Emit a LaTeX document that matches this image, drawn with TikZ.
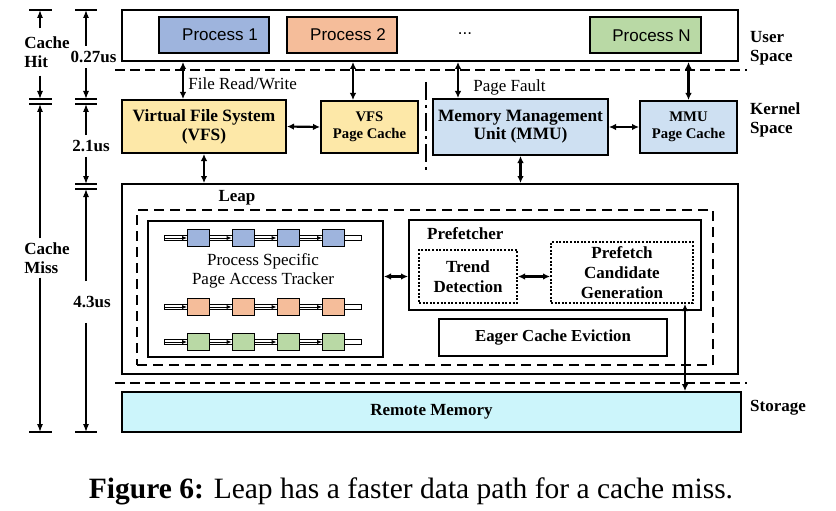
\documentclass[tikz,border=0pt]{standalone}
\usepackage{fontspec}
\setmainfont{Liberation Serif}
\newfontfamily\arialfont{Liberation Sans}
\usetikzlibrary{calc,positioning,arrows.meta}
\definecolor{pblue}{HTML}{9EB4DD}
\definecolor{porange}{HTML}{F5BD9A}
\definecolor{pgreen}{HTML}{B9D9A5}
\definecolor{vfsyellow}{HTML}{FDE8A8}
\definecolor{mmublue}{HTML}{CEE0F2}
\definecolor{remcyan}{HTML}{CCF5FB}
\tikzset{
	box/.style={draw, line width=2pt, inner sep=0pt, align=center},
	proc/.style={box, minimum width=110pt, minimum height=36pt, font=\arialfont\fontsize{17}{20}\selectfont, execute at begin node=\hspace*{12pt}},
	lbl/.style={font=\bfseries\fontsize{17}{19}\selectfont, align=left, inner sep=0pt},
	bi/.style={{Latex[length=7pt,width=6.5pt]}-{Latex[length=7pt,width=6.5pt]}, line width=2.2pt},
	sep/.style={line width=2.2pt, dash pattern=on 10pt off 5pt},
	dotbox/.style={draw, line width=2pt, dash pattern=on 2pt off 1.6pt, inner sep=0pt, align=center, font=\bfseries\fontsize{17}{20}\selectfont},
	tick/.style={line width=1.2pt},
	dim/.style={-{Latex[length=8pt,width=6pt]}, line width=1.1pt},
	chainarr/.style={-{Latex[length=5pt,width=4.5pt]}, line width=1pt}
}
\begin{document}
\begin{tikzpicture}[x=1pt,y=-1pt]
			%%%%% START %%%%%
			\useasboundingbox (0,0) rectangle (836,511);
			
			% user space
			\node[box, minimum width=616pt, minimum height=51pt] (user) at (430,35.5) {};
			\node[proc, fill=pblue] (p1) at (214,35) {Process 1};
			\node[proc, fill=porange] (p2) at (342,35) {Process 2};
			\node[font=\arialfont\fontsize{17}{20}\selectfont] (dots) at (465,34) {...};
			\node[proc, fill=pgreen, minimum width=111pt] (pN) at (645.5,35.5) {Process N};
			\node[lbl, anchor=west] (us) at (750,48) {User\\Space};
			
			\draw[sep] (115,70) -- (747,70);
			
			% kernel space
			\node[box, fill=vfsyellow, minimum width=164pt, minimum height=53pt, font=\bfseries\fontsize{17.3}{19}\selectfont] (vfs) at (204,126.5) {Virtual File System\\(VFS)};
			\node[box, fill=vfsyellow, minimum width=97pt, minimum height=52pt, font=\bfseries\fontsize{14.7}{17}\selectfont] (vfspc) at (369.5,127) {VFS\\Page Cache};
			\node[box, fill=mmublue, minimum width=175pt, minimum height=56pt, font=\bfseries\fontsize{17.3}{18}\selectfont] (mmu) at (520.5,127) {Memory Management\\Unit (MMU)};
			\node[box, fill=mmublue, minimum width=97pt, minimum height=52pt, font=\bfseries\fontsize{14.7}{17}\selectfont] (mmupc) at (688.5,127) {MMU\\Page Cache};
			\node[lbl, anchor=west] (ks) at (750,120) {Kernel\\Space};
			
			\draw[line width=2pt, dash pattern=on 18pt off 5pt on 3pt off 5pt] (426,82) -- (426,172);
			
			\coordinate (frw) at ([xshift=-21pt]vfs.north);
			\coordinate (pcw) at ([xshift=-16.5pt]vfspc.north);
			\coordinate (pf) at ([xshift=-62.5pt]mmu.north);
			\draw[bi] (frw |- user.south) -- (frw) node[pos=0.6, right=1pt, font=\fontsize{17}{20}\selectfont] {File Read/Write};
			\draw[bi] (pcw |- user.south) -- (pcw);
			\draw[bi] (pf |- user.south) -- (pf) node[pos=0.7, right=11pt, font=\fontsize{17}{20}\selectfont] {Page Fault};
			\draw[bi] (mmupc.north |- user.south) -- (mmupc.north);
			\draw[bi] (vfs.east) -- (vfspc.west);
			\draw[bi] (mmu.east) -- (mmupc.west);
			
			% leap
			\node[box, minimum width=616pt, minimum height=190pt] (leap) at (430,279) {};
			\node[lbl] (leaplbl) at (237,198) {Leap};
			\node[draw, line width=2.2pt, dash pattern=on 10pt off 6pt, minimum width=576pt, minimum height=155pt] (leapin) at (425,287.5) {};
			\draw[bi] (vfs.south) -- (vfs.south |- leap.north);
			\draw[bi] (mmu.south) -- (mmu.south |- leap.north);
			
			\node[box, minimum width=235pt, minimum height=136pt] (tracker) at (265.5,289) {};
			\node[font=\fontsize{17}{18.5}\selectfont, align=center] (trktxt) at (263,271) {Process Specific\\Page Access Tracker};
			\foreach \r/\row/\col in {a/238/pblue, b/307/porange, c/342/pgreen} {
				\draw[line width=1pt, fill=white] (164,\row-2.5) rectangle (361,\row+2.5);
				\coordinate (\r0) at (164,\row);
				\foreach \x [count=\i] in {198.5,243,288,333.5}
					\node[draw, line width=1pt, fill=\col, minimum width=22pt, minimum height=17pt, inner sep=0pt] (\r\i) at (\x,\row) {};
				\draw[chainarr] (\r0) -- (\r1.west);
				\foreach \i [evaluate=\i as \j using int(\i+1)] in {1,2,3}
					\draw[chainarr] (\r\i.east) -- (\r\j.west);
			}
			
			\node[box, minimum width=292pt, minimum height=90pt] (pref) at (555,265) {};
			\node[lbl, anchor=north west] (preflbl) at ([xshift=19pt,yshift=-8pt]pref.north west) {Prefetcher};
			\node[dotbox, minimum width=98pt, minimum height=53pt] (trend) at (468,276.5) {Trend\\Detection};
			\node[dotbox, minimum width=142pt, minimum height=61pt] (cand) at (622,272.5) {Prefetch\\Candidate\\Generation};
			\node[box, minimum width=228pt, minimum height=37pt, font=\bfseries\fontsize{16.8}{19}\selectfont] (evict) at (553,337.5) {Eager Cache Eviction};
			\draw[bi] (tracker.east |- trend) -- (pref.west |- trend);
			\draw[bi] (trend.east) -- (cand.west |- trend.east);
			
			% storage
			\draw[sep] (115,383) -- (747,383);
			\node[box, fill=remcyan, minimum width=619pt, minimum height=40pt, font=\bfseries\fontsize{17}{19}\selectfont] (remote) at (431.5,412) {Remote Memory};
			\node[lbl, anchor=west] (st) at (750,408) {Storage};
			\coordinate (rm) at ([xshift=-9pt]cand.south east);
			\draw[bi] (rm) -- (rm |- remote.north);
			
			% latency scale
			\coordinate (h0) at (40,10);
			\coordinate (h1) at (40,99);
			\coordinate (m0) at (40,104);
			\coordinate (m1) at (40,432);
			\coordinate (t0) at (86,10);
			\coordinate (t1) at (86,99);
			\coordinate (k0) at (86,104);
			\coordinate (k1) at (86,184);
			\coordinate (l0) at (86,189);
			\coordinate (l1) at (86,432);
			\foreach \c in {h0,h1,m0,m1}
				\draw[tick] ([xshift=-11pt]\c) -- ([xshift=12pt]\c);
			\foreach \c in {t0,t1,k0,k1,l0,l1}
				\draw[tick] ([xshift=-11pt]\c) -- ([xshift=11pt]\c);
			
			\node[lbl, inner ysep=8pt] (hit) at (47,52) {Cache\\Hit};
			\node[lbl, inner ysep=4pt] (miss) at (47,258) {Cache\\Miss};
			\node[lbl, inner ysep=5.5pt] (t27) at (93.5,57) {0.27us};
			\node[lbl, inner ysep=5pt] (t21) at (91,146) {2.1us};
			\node[lbl, inner ysep=15pt] (t43) at (92,302) {4.3us};
			
			\draw[dim] (hit.north -| h0) -- (h0);
			\draw[dim] (hit.south -| h1) -- (h1);
			\draw[dim] (miss.north -| m0) -- (m0);
			\draw[dim] (miss.south -| m1) -- (m1);
			\draw[dim] (t27.north -| t0) -- (t0);
			\draw[dim] (t27.south -| t1) -- (t1);
			\draw[dim] (t21.north -| k0) -- (k0);
			\draw[dim] (t21.south -| k1) -- (k1);
			\draw[dim] (t43.north -| l0) -- (l0);
			\draw[dim] (t43.south -| l1) -- (l1);
			
			% caption
			\node[font=\fontsize{29.5}{32}\selectfont, anchor=base, inner sep=0pt] (cap) at (411,498) {\textbf{Figure 6:} Leap has a faster data path for a cache miss.};
			
			%%%%% END %%%%%
\end{tikzpicture}
\end{document}
